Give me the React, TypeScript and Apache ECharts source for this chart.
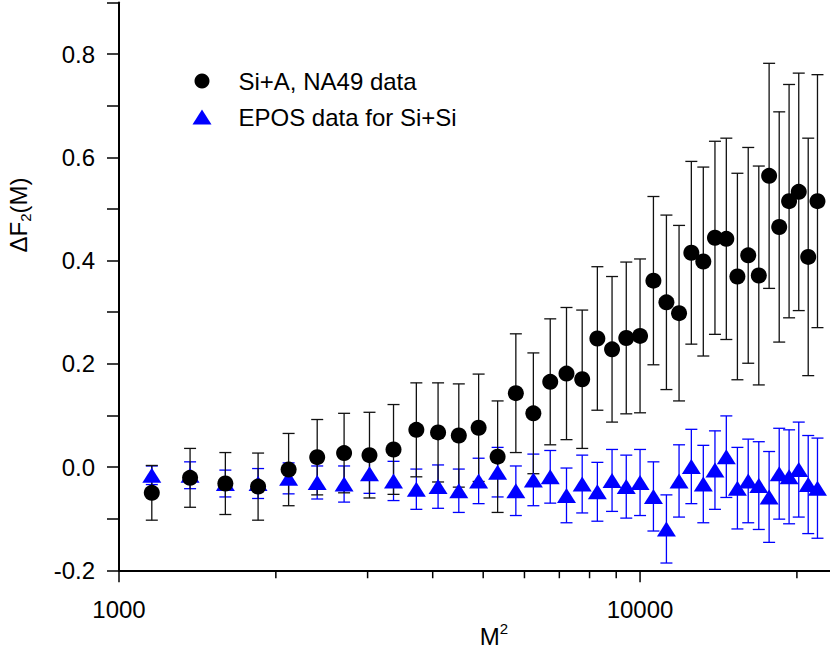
import React, { useEffect, useRef } from "react";
import * as echarts from "echarts";

// M^2 bins (M = 34, 37, ..., 148)
const m2Values = [
  1156, 1369, 1600, 1849, 2116, 2401, 2704, 3025, 3364, 3721,
  4096, 4489, 4900, 5329, 5776, 6241, 6724, 7225, 7744, 8281,
  8836, 9409, 10000, 10609, 11236, 11881, 12544, 13225, 13924, 14641,
  15376, 16129, 16900, 17689, 18496, 19321, 20164, 21025, 21904,
];

// Si+A, NA49 data
const na49Values = [
  -0.050, -0.021, -0.032, -0.038, -0.005, 0.019, 0.027, 0.023, 0.034, 0.072,
  0.067, 0.061, 0.076, 0.020, 0.143, 0.104, 0.165, 0.181, 0.170, 0.249,
  0.228, 0.250, 0.254, 0.361, 0.319, 0.298, 0.415, 0.398, 0.444, 0.442,
  0.369, 0.410, 0.371, 0.564, 0.465, 0.515, 0.533, 0.407, 0.515,
];
const na49Errors = [
  0.053, 0.057, 0.060, 0.065, 0.070, 0.073, 0.077, 0.083, 0.087, 0.091,
  0.096, 0.100, 0.104, 0.108, 0.115, 0.117, 0.122, 0.128, 0.134, 0.139,
  0.141, 0.147, 0.149, 0.163, 0.169, 0.170, 0.177, 0.183, 0.187, 0.195,
  0.200, 0.209, 0.212, 0.218, 0.223, 0.226, 0.230, 0.230, 0.245,
];

// EPOS data for Si+Si
const eposValues = [
  -0.016, -0.016, -0.032, -0.032, -0.022, -0.030, -0.033, -0.013, -0.027, -0.043,
  -0.038, -0.046, -0.027, -0.010, -0.046, -0.025, -0.019, -0.055, -0.033, -0.048,
  -0.026, -0.038, -0.030, -0.057, -0.120, -0.027, 0.001, -0.033, -0.006, 0.020,
  -0.041, -0.027, -0.036, -0.058, -0.013, -0.019, -0.005, -0.034, -0.041,
];
const eposErrors = [
  0.018, 0.026, 0.026, 0.029, 0.030, 0.032, 0.035, 0.038, 0.038, 0.039,
  0.042, 0.042, 0.044, 0.048, 0.048, 0.050, 0.051, 0.053, 0.056, 0.057,
  0.060, 0.061, 0.064, 0.067, 0.066, 0.070, 0.072, 0.075, 0.076, 0.079,
  0.079, 0.081, 0.085, 0.088, 0.088, 0.091, 0.092, 0.095, 0.097,
];

const xTickValues = [1000, 2000, 3000, 4000, 5000, 6000, 7000, 8000, 9000, 10000, 20000];
const xMajorTicks = [1000, 10000];

const FONT = "'Liberation Sans', Arial, Helvetica, sans-serif";
const BLACK_NAME = "Si+A, NA49 data";
const BLUE_NAME = "EPOS data for Si+Si";

function errorBarRenderer(color: string, lineWidth: number, halfCap: number) {
  return (params: any, api: any) => {
    const x = api.value(0);
    const y = api.value(1);
    const e = api.value(2);
    const top = api.coord([x, y + e]);
    const bot = api.coord([x, y - e]);
    const style = { stroke: color, lineWidth };
    return {
      type: "group",
      children: [
        { type: "line", shape: { x1: top[0], y1: top[1], x2: bot[0], y2: bot[1] }, style },
        { type: "line", shape: { x1: top[0] - halfCap, y1: top[1], x2: top[0] + halfCap, y2: top[1] }, style },
        { type: "line", shape: { x1: bot[0] - halfCap, y1: bot[1], x2: bot[0] + halfCap, y2: bot[1] }, style },
      ],
    };
  };
}

export default function App() {
  const ref = useRef<HTMLDivElement>(null);

  useEffect(() => {
    if (!ref.current) return;
    const chart = echarts.init(ref.current, null, { renderer: "svg" });

    const blackData = m2Values.map((m, i) => [m, na49Values[i], na49Errors[i]]);
    const blueData = m2Values.map((m, i) => [m, eposValues[i], eposErrors[i]]);
    const tickData = xTickValues.map((v) => [v, -0.2, xMajorTicks.includes(v) ? 1 : 0]);

    const option: any = {
      animation: false,
      backgroundColor: "#ffffff",
      grid: {
        left: 119,
        right: 0,
        top: 2.4,
        bottom: 80.75,
        containLabel: false,
        outerBoundsMode: "none",
      },
      legend: {
        show: true,
        orient: "vertical",
        left: 187.5,
        top: 64,
        itemWidth: 19,
        itemHeight: 15,
        itemGap: 12,
        data: [BLACK_NAME, BLUE_NAME],
        selectedMode: false,
        textStyle: {
          fontFamily: FONT,
          fontSize: 24,
          lineHeight: 24,
          color: "#000",
          padding: [0, 0, 0, 22],
        },
      },
      xAxis: {
        type: "log",
        logBase: 10,
        min: 1000,
        max: 23150,
        splitLine: { show: false },
        axisLine: { show: true, onZero: false, lineStyle: { color: "#000", width: 2 } },
        axisTick: { show: false },
        axisLabel: {
          show: true,
          fontFamily: FONT,
          fontSize: 24,
          color: "#000",
          margin: 27,
          showMaxLabel: false,
          formatter: (v: number) => String(Math.round(v)),
        },
      },
      yAxis: {
        type: "value",
        min: -0.2,
        max: 0.9,
        interval: 0.1,
        splitLine: { show: false },
        axisLine: { show: true, onZero: false, lineStyle: { color: "#000", width: 2 } },
        axisTick: { show: true, inside: false, length: 12, lineStyle: { color: "#000", width: 1.5 } },
        axisLabel: {
          show: true,
          fontFamily: FONT,
          fontSize: 24,
          color: "#000",
          margin: 24,
          formatter: (v: number) => {
            const k = Math.round(v * 10);
            if (k % 2 !== 0) return "";
            return (k / 10).toFixed(1);
          },
        },
      },
      series: [
        {
          name: "xticks",
          type: "custom",
          silent: true,
          clip: false,
          data: tickData,
          encode: { x: 0, y: 1 },
          renderItem: (params: any, api: any) => {
            const p = api.coord([api.value(0), api.value(1)]);
            const len = api.value(2) ? 12 : 8;
            return {
              type: "line",
              shape: { x1: p[0], y1: p[1], x2: p[0], y2: p[1] + len },
              style: { stroke: "#000", lineWidth: 1.5 },
            };
          },
        },
        {
          name: "eposErr",
          type: "custom",
          silent: true,
          data: blueData,
          encode: { x: 0, y: 1 },
          renderItem: errorBarRenderer("#0000ff", 1.3, 6),
        },
        {
          name: BLUE_NAME,
          type: "scatter",
          silent: true,
          symbol: "triangle",
          symbolSize: [19, 15],
          itemStyle: { color: "#0000ff", opacity: 1 },
          data: blueData.map((d) => [d[0], d[1]]),
        },
        {
          name: "na49Err",
          type: "custom",
          silent: true,
          data: blackData,
          encode: { x: 0, y: 1 },
          renderItem: errorBarRenderer("#111111", 1.3, 6),
        },
        {
          name: BLACK_NAME,
          type: "scatter",
          silent: true,
          symbol: "circle",
          symbolSize: 16,
          itemStyle: { color: "#000000", opacity: 1 },
          data: blackData.map((d) => [d[0], d[1]]),
        },
      ],
      graphic: [
        {
          type: "text",
          x: 18,
          y: 215,
          rotation: Math.PI / 2,
          style: {
            text: "ΔF{sub|2}(M)",
            fontFamily: FONT,
            fontSize: 24,
            fill: "#000",
            align: "center",
            verticalAlign: "middle",
            lineHeight: 30,
            rich: {
              sub: { fontFamily: FONT, fontSize: 15, verticalAlign: "bottom", lineHeight: 30, fill: "#000" },
            },
          },
        },
        {
          type: "text",
          x: 494,
          y: 636,
          style: {
            text: "M{sup|2}",
            fontFamily: FONT,
            fontSize: 24,
            fill: "#000",
            align: "center",
            verticalAlign: "middle",
            lineHeight: 30,
            rich: {
              sup: { fontFamily: FONT, fontSize: 15, verticalAlign: "top", lineHeight: 30, fill: "#000" },
            },
          },
        },
      ],
    };

    chart.setOption(option);
    return () => chart.dispose();
  }, []);

  return (
    <div
      ref={ref}
      style={{ position: "fixed", left: 0, top: 0, width: 830, height: 651, background: "#fff" }}
    />
  );
}
